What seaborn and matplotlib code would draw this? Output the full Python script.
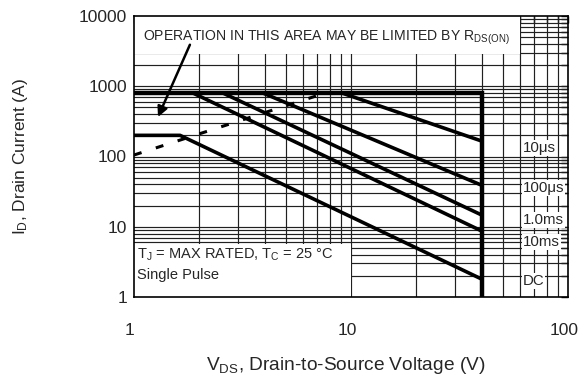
import numpy as np
import pandas as pd
import matplotlib
matplotlib.use("Agg")
import matplotlib.pyplot as plt
from matplotlib.patches import Rectangle
from matplotlib.ticker import LogLocator, FixedLocator, FixedFormatter, NullFormatter
from matplotlib.transforms import ScaledTranslation
import seaborn as sns

# Maximum safe operating area: drain current I_D (A) vs drain-source voltage V_DS (V)
limit_v = [1.0, 40.0, 40.0]          # package current limit, then V_DSS limit
limit_i = [800.0, 800.0, 1.0]

pulse_names = ["10μs", "100μs", "1.0ms", "10ms"]
pulse_v_start = [9.1, 3.93, 2.57, 1.87]   # where each pulse line leaves the 800 A limit
pulse_i_start = [800.0, 800.0, 800.0, 800.0]
pulse_v_end = [40.0, 40.0, 40.0, 40.0]
pulse_i_end = [166.0, 39.0, 14.7, 8.7]

dc_v = [1.0, 1.63, 40.0]
dc_i = [200.0, 200.0, 1.8]

rds_v = [1.0, 7.6]                   # R_DS(on) limit line
rds_i = [105.0, 800.0]

curve_names = ["10μs", "100μs", "1.0ms", "10ms", "DC"]
curve_label_i = [132.0, 35.6, 12.5, 6.07, 1.69]

x_ticks = [1, 10, 100]
x_ticklabels = ["1", "10", "100"]
y_ticks = [1, 10, 100, 1000, 10000]
y_ticklabels = ["1", "10", "100", "1000", "10000"]

sns.set_style("white")
plt.rcParams["font.family"] = ["Liberation Sans", "DejaVu Sans"]
plt.rcParams["mathtext.fontset"] = "custom"
plt.rcParams["mathtext.rm"] = "Liberation Sans"
plt.rcParams["mathtext.it"] = "Liberation Sans:italic"
plt.rcParams["mathtext.bf"] = "Liberation Sans:bold"

fig = plt.figure(figsize=(5.81, 3.79), dpi=100)
ax = fig.add_axes([134 / 581, 1 - 297 / 379, 434 / 581, 281 / 379])
ax.set_xscale("log")
ax.set_yscale("log")
ax.set_xlim(1, 100)
ax.set_ylim(1, 10000)

ax.xaxis.set_major_locator(FixedLocator(x_ticks))
ax.xaxis.set_major_formatter(FixedFormatter(x_ticklabels))
ax.yaxis.set_major_locator(FixedLocator(y_ticks))
ax.yaxis.set_major_formatter(FixedFormatter(y_ticklabels))
for axis in (ax.xaxis, ax.yaxis):
    axis.set_minor_locator(LogLocator(base=10, subs=np.arange(2, 10)))
    axis.set_minor_formatter(NullFormatter())

# full log grid, drawn as plain lines so the label panels can hide parts of it
grid_kw = dict(color="#202020", lw=0.85, zorder=1)
for v in list(ax.xaxis.get_majorticklocs()) + list(ax.xaxis.get_minorticklocs()):
    if 1 < v < 100:
        ax.axvline(v, **grid_kw)
for i in list(ax.yaxis.get_majorticklocs()) + list(ax.yaxis.get_minorticklocs()):
    if 1 < i < 10000:
        ax.axhline(i, **grid_kw)

# white panels behind the notes
ax.add_patch(Rectangle((1, 2900), 59, 7100, facecolor="white", edgecolor="none", zorder=1.5))
ax.add_patch(Rectangle((1, 1), 9, 4.7, facecolor="white", edgecolor="none", zorder=1.5))

# limits
sns.lineplot(x=limit_v, y=limit_i, ax=ax, sort=False, estimator=None,
             color="black", lw=3.2, solid_joinstyle="miter", zorder=3)
pulse_df = pd.DataFrame({
    "V": pulse_v_start + pulse_v_end,
    "I": pulse_i_start + pulse_i_end,
    "pulse": pulse_names + pulse_names,
})
sns.lineplot(data=pulse_df, x="V", y="I", units="pulse", ax=ax, sort=False,
             estimator=None, color="black", lw=2.6, zorder=3)
sns.lineplot(x=dc_v, y=dc_i, ax=ax, sort=False, estimator=None,
             color="black", lw=2.6, zorder=3)
sns.lineplot(x=rds_v, y=rds_i, ax=ax, sort=False, estimator=None,
             color="black", lw=2.2, linestyle=(0, (2.6, 4.9)), zorder=3)

# curve names at the right edge
for name, iv in zip(curve_names, curve_label_i):
    ax.text(62, iv, name, fontsize=10.8, ha="left", va="center", zorder=4,
            bbox=dict(facecolor="white", edgecolor="none", pad=0.6))

ax.text(1.10, 4860, r"OPERATION IN THIS AREA MAY BE LIMITED BY R$_{\mathregular{DS(ON)}}$",
        fontsize=10.1, ha="left", va="center", zorder=4)
ax.annotate("", xy=(1.29, 365), xytext=(1.81, 3900),
            arrowprops=dict(arrowstyle="-|>", color="black", lw=1.8,
                            mutation_scale=15, shrinkA=0, shrinkB=0), zorder=4)
ax.text(1.035, 3.96, r"T$_{\mathregular{J}}$ = MAX RATED, T$_{\mathregular{C}}$ = 25 °C",
        fontsize=10.5, ha="left", va="center", zorder=4)
ax.text(1.035, 2.06, "Single Pulse", fontsize=10.5, ha="left", va="center", zorder=4)

for side in ("left", "right", "top", "bottom"):
    ax.spines[side].set_color("black")
    ax.spines[side].set_linewidth(1.2)
ax.tick_params(which="both", direction="in", top=True, right=True,
               color="black", width=1.0)
ax.tick_params(which="major", length=5)
ax.tick_params(which="minor", length=5)
ax.tick_params(axis="x", which="major", pad=19, labelsize=12.5)
ax.tick_params(axis="y", which="major", pad=5, labelsize=12.5)
shift = ScaledTranslation(-3 / 72, 0, fig.dpi_scale_trans)
for lab in ax.get_xticklabels():
    lab.set_transform(lab.get_transform() + shift)

ax.set_xlabel(r"V$_{\mathregular{DS}}$, Drain-to-Source Voltage (V)", fontsize=13.8)
ax.set_ylabel(r"I$_{\mathregular{D}}$, Drain Current (A)", fontsize=12.5)
ax.xaxis.set_label_coords(0.488, -0.205)
ax.yaxis.set_label_coords(-0.24, 0.5)

fig.savefig("out.png", dpi=100)
